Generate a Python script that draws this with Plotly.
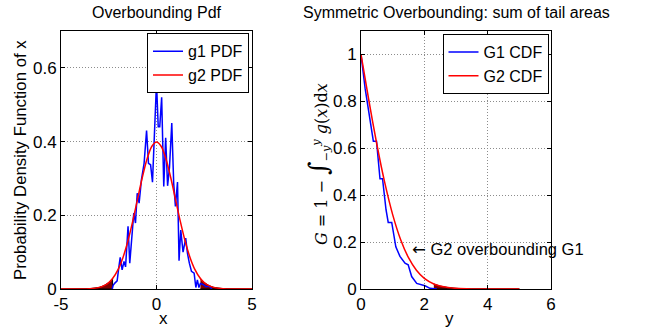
import plotly.graph_objects as go

# ---------------- data ----------------
# Left panel: noisy empirical PDF g1
g1_x = [-2.32, -2.27, -2.18, -2.06, -1.97, -1.90, -1.80, -1.70, -1.62, -1.55, -1.49, -1.40,
        -1.29, -1.19, -1.10, -1.01, -0.91, -0.79, -0.65, -0.52, -0.42, -0.31, -0.21, 0.0,
        0.09, 0.17, 0.27, 0.38, 0.48, 0.58, 0.68, 0.80, 0.90, 0.99, 1.10, 1.18, 1.27, 1.39,
        1.53, 1.62, 1.72, 1.83, 1.97, 2.06, 2.14, 2.22, 2.30, 2.45, 2.60, 2.75, 2.90]
g1_pdf = [0.0, 0.01, 0.016, 0.022, 0.06, 0.086, 0.052, 0.075, 0.06, 0.12, 0.17, 0.07,
          0.15, 0.206, 0.179, 0.26, 0.233, 0.296, 0.341, 0.43, 0.341, 0.337, 0.29, 0.56,
          0.44, 0.44, 0.52, 0.278, 0.41, 0.28, 0.33, 0.45, 0.287, 0.224, 0.29, 0.077, 0.16, 0.10,
          0.138, 0.097, 0.07, 0.048, 0.043, 0.004, 0.025, 0.004, 0.015, 0.012, 0.006, 0.008, 0.0]

# Left panel: smooth overbounding PDF g2
g2_x = [-5, -4.5, -4, -3.5, -3, -2.75, -2.5, -2.3, -2, -1.75, -1.5, -1.25, -1, -0.75, -0.5, -0.25,
        0, 0.25, 0.5, 0.75, 1, 1.25, 1.5, 1.75, 2, 2.3, 2.5, 2.75, 3, 3.5, 4, 4.5, 5]
g2_pdf = [0.0, 0.00002, 0.00013, 0.00087, 0.0044, 0.0091, 0.0175, 0.0283, 0.054, 0.0863, 0.1295,
          0.1826, 0.242, 0.3011, 0.3521, 0.3867, 0.3989, 0.3867, 0.3521, 0.3011, 0.242, 0.1826,
          0.1295, 0.0863, 0.054, 0.0283, 0.0175, 0.0091, 0.0044, 0.00087, 0.00013, 0.00002, 0.0]

# Right panel: tail-area curves
G1_y = [0, 0.13, 0.39, 0.49, 0.60, 0.68, 0.79, 0.86, 0.97, 1.10, 1.23, 1.39, 1.49, 1.60,
        1.76, 1.92, 2.02, 2.18, 2.34, 2.40]
G1_cdf = [1, 0.855, 0.63, 0.63, 0.47, 0.47, 0.338, 0.284, 0.284, 0.18, 0.139, 0.11, 0.103, 0.053,
          0.024, 0.017, 0.014, 0.003, 0.0, 0.0]

G2_y = [0, 0.25, 0.5, 0.75, 1, 1.25, 1.5, 1.75, 2, 2.3, 2.5, 2.75, 3, 3.5, 4, 4.5, 5]
G2_cdf = [1, 0.8026, 0.6171, 0.4533, 0.3173, 0.2113, 0.1336, 0.0801, 0.0455, 0.0214, 0.0124,
          0.0060, 0.0027, 0.00047, 0.00006, 0.000007, 0.0]

tail_limit = 2.3

left_xticks = [-5, 0, 5]
left_xticktext = ["-5", "0", "5"]
left_yticks = [0, 0.2, 0.4, 0.6]
left_yticktext = ["0", "0.2", "0.4", "0.6"]
right_xticks = [0, 2, 4, 6]
right_yticks = [0, 0.2, 0.4, 0.6, 0.8, 1]
right_yticktext = ["0", "0.2", "0.4", "0.6", "0.8", "1"]

assert len(g1_x) == len(g1_pdf) and len(g2_x) == len(g2_pdf)
assert len(G1_y) == len(G1_cdf) and len(G2_y) == len(G2_cdf)

# ---------------- figure ----------------
FONT = "Liberation Sans, Arial, Helvetica, sans-serif"
MAROON = "#7f0000"

fig = go.Figure()

def tail_polygon(xs, ys, side):
    px, py = [], []
    for x, y in zip(xs, ys):
        if (side < 0 and x <= -tail_limit) or (side > 0 and x >= tail_limit):
            px.append(x)
            py.append(y)
    px = px + [px[-1], px[0]]
    py = py + [0, 0]
    return px, py

for side in (-1, 1):
    px, py = tail_polygon(g2_x, g2_pdf, side)
    fig.add_trace(go.Scatter(x=px, y=py, mode="lines", fill="toself", fillcolor=MAROON,
                             line=dict(color="black", width=1), showlegend=False,
                             hoverinfo="skip", xaxis="x", yaxis="y"))
px, py = tail_polygon(G2_y, G2_cdf, 1)
fig.add_trace(go.Scatter(x=px, y=py, mode="lines", fill="toself", fillcolor=MAROON,
                         line=dict(color="black", width=1), showlegend=False,
                         hoverinfo="skip", xaxis="x2", yaxis="y2"))

fig.add_trace(go.Scatter(x=g1_x, y=g1_pdf, mode="lines", name="g1 PDF",
                         line=dict(color="#0000ff", width=1.5), xaxis="x", yaxis="y",
                         legend="legend"))
fig.add_trace(go.Scatter(x=g2_x, y=g2_pdf, mode="lines", name="g2 PDF",
                         line=dict(color="#ff0000", width=1.5, shape="spline", smoothing=0.8),
                         xaxis="x", yaxis="y", legend="legend"))

fig.add_trace(go.Scatter(x=G1_y, y=G1_cdf, mode="lines", name="G1 CDF",
                         line=dict(color="#0000ff", width=1.5), xaxis="x2", yaxis="y2",
                         legend="legend2"))
fig.add_trace(go.Scatter(x=G2_y, y=G2_cdf, mode="lines", name="G2 CDF",
                         line=dict(color="#ff0000", width=1.5, shape="spline", smoothing=0.8),
                         xaxis="x2", yaxis="y2", legend="legend2"))

L, R, T, B = 61, 99, 31, 44
W, H = 650, 333
pw = W - L - R
left_dom = [0, (252 - L) / pw]
right_dom = [(361 - L) / pw, 1]

axis_common = dict(showline=True, linecolor="black", linewidth=1, mirror="ticks",
                   ticks="inside", ticklen=4, tickcolor="black", tickwidth=1,
                   showgrid=True, gridcolor="#8c8c8c", griddash="1px,2px", gridwidth=1,
                   zeroline=False, tickfont=dict(family=FONT, size=17, color="black"))

legend_common = dict(bgcolor="white", bordercolor="black", borderwidth=1,
                     font=dict(family=FONT, size=16, color="black"),
                     xanchor="right", yanchor="top", itemwidth=30, tracegroupgap=0)

fig.update_layout(
    width=W, height=H,
    margin=dict(l=L, r=R, t=T, b=B, pad=0),
    paper_bgcolor="white", plot_bgcolor="white",
    font=dict(family=FONT, size=16, color="black"),
    xaxis=dict(domain=left_dom, range=[-5, 5], tickvals=left_xticks, ticktext=left_xticktext,
               anchor="y", **axis_common),
    yaxis=dict(domain=[0, 1], range=[0, 0.7], tickvals=left_yticks, ticktext=left_yticktext,
               anchor="x", **axis_common),
    xaxis2=dict(domain=right_dom, range=[0, 6], tickvals=right_xticks, anchor="y2",
                **axis_common),
    yaxis2=dict(domain=[0, 1], range=[0, 1.1], tickvals=right_yticks, ticktext=right_yticktext,
                anchor="x2", **axis_common),
    legend=dict(x=(249 - L) / pw, y=0.991, **legend_common),
    legend2=dict(x=(548.5 - L) / pw, y=0.988, **legend_common),
    showlegend=True,
)

def cx(dom):
    return (dom[0] + dom[1]) / 2

annotations = [
    dict(text="Overbounding Pdf", xref="paper", yref="paper", x=cx(left_dom), y=1,
         yanchor="middle", xanchor="center", yshift=19, showarrow=False),
    dict(text="Symmetric Overbounding: sum of tail areas", xref="paper", yref="paper",
         x=cx(right_dom), y=1, yanchor="middle", xanchor="center", yshift=19, showarrow=False),
    dict(text="x", xref="paper", yref="paper", x=cx(left_dom), y=0, yanchor="middle",
         yshift=-29, showarrow=False, font=dict(size=17)),
    dict(text="y", xref="paper", yref="paper", x=cx(right_dom), y=0, yanchor="middle",
         yshift=-29, showarrow=False, font=dict(size=17)),
    dict(text="Probability Density Function of x", xref="paper", yref="paper", x=0, y=0.5,
         xanchor="center", yanchor="middle", xshift=-41, textangle=-90, showarrow=False,
         font=dict(size=16.8)),
    dict(text=("<i>G</i> = 1 − <span style=\"font-size:26px\">∫</span>"
               "<sub>−<i>y</i></sub><sup><i>y</i></sup> <i>g</i>(<i>x</i>)d<i>x</i>"),
         xref="paper", yref="paper", x=right_dom[0], y=0.5, xanchor="center", yanchor="middle",
         xshift=-43, yshift=-4, textangle=-90, showarrow=False,
         font=dict(family="DejaVu Serif, Liberation Serif, serif", size=16, color="black")),
    dict(text="<span style=\"font-family:DejaVu Sans\">←</span> G2 overbounding G1",
         xref="x2", yref="y2", x=1.55, y=0.17,
         xanchor="left", yanchor="middle", showarrow=False, font=dict(size=16.5)),
]
fig.update_layout(annotations=annotations)

fig.write_html("out.html")
